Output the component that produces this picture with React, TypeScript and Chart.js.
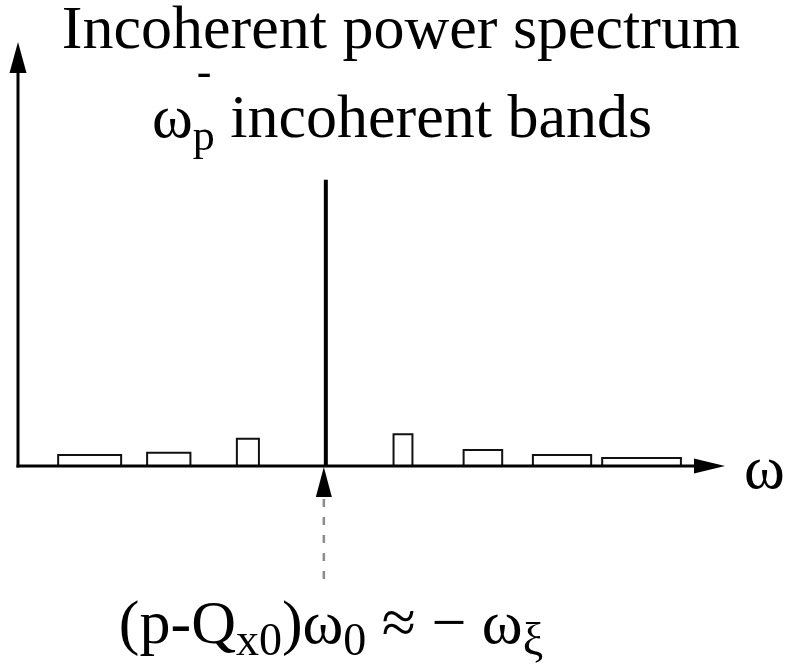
import React, { useEffect, useRef } from "react";
import { Chart, registerables } from "chart.js";

Chart.register(...registerables);

// Incoherent sidebands: frequency range (in units of band spacing) and power
const bandLow = [-3.4, -2.27, -1.13, 0.86, 1.75, 2.63, 3.51];
const bandHigh = [-2.6, -1.72, -0.85, 1.1, 2.24, 3.37, 4.51];
const bandPower = [0.26, 0.31, 0.64, 0.75, 0.38, 0.26, 0.19];

// Coherent line at the shifted betatron frequency
const peakFreq = [0];
const peakPower = [6.75];

const freqMin = -3.91;
const freqMax = 5.07;
const powerMax = 10;

const SERIF = "'Liberation Serif', 'Times New Roman', serif";

type Seg = { t: string; size: number; dy: number; gapAfter?: number };

function segWidth(ctx: CanvasRenderingContext2D, s: Seg) {
  ctx.font = `${s.size}px ${SERIF}`;
  return ctx.measureText(s.t).width + (s.gapAfter ?? 0);
}

function drawRich(ctx: CanvasRenderingContext2D, segs: Seg[], cx: number, baseline: number) {
  const total = segs.reduce((w, s) => w + segWidth(ctx, s), 0);
  let x = cx - total / 2;
  ctx.textAlign = "left";
  ctx.textBaseline = "alphabetic";
  for (const s of segs) {
    ctx.font = `${s.size}px ${SERIF}`;
    ctx.fillText(s.t, x, baseline + s.dy);
    x += segWidth(ctx, s);
  }
  return cx - total / 2;
}

const decorations = {
  id: "spectrumDecorations",
  afterDatasetsDraw(chart: any) {
    const ctx: CanvasRenderingContext2D = chart.ctx;
    const xs = chart.scales.x;
    const ys = chart.scales.y;
    const yBase = ys.getPixelForValue(0);
    const xLeft = xs.left;
    const xRight = xs.right;
    const yTop = ys.top;
    ctx.save();
    ctx.fillStyle = "#000";
    ctx.strokeStyle = "#000";
    ctx.lineWidth = 3;

    // frequency axis with arrow
    ctx.beginPath();
    ctx.moveTo(xLeft - 1.5, yBase);
    ctx.lineTo(xRight - 30, yBase);
    ctx.stroke();
    ctx.beginPath();
    ctx.moveTo(xRight, yBase);
    ctx.lineTo(xRight - 31, yBase - 7.5);
    ctx.lineTo(xRight - 31, yBase + 7.5);
    ctx.closePath();
    ctx.fill();

    // power axis with arrow
    ctx.beginPath();
    ctx.moveTo(xLeft, yBase + 1.5);
    ctx.lineTo(xLeft, yTop + 30);
    ctx.stroke();
    ctx.beginPath();
    ctx.moveTo(xLeft, yTop);
    ctx.lineTo(xLeft - 8.5, yTop + 31);
    ctx.lineTo(xLeft + 8.5, yTop + 31);
    ctx.closePath();
    ctx.fill();

    // marker under the coherent line
    const xp = xs.getPixelForValue(peakFreq[0]) - 2;
    ctx.beginPath();
    ctx.moveTo(xp, yBase + 1);
    ctx.lineTo(xp - 8, yBase + 31);
    ctx.lineTo(xp + 8, yBase + 31);
    ctx.closePath();
    ctx.fill();
    ctx.strokeStyle = "#8c8c8c";
    ctx.lineWidth = 2.5;
    ctx.setLineDash([8, 10]);
    ctx.beginPath();
    ctx.moveTo(xp, yBase + 33);
    ctx.lineTo(xp, yBase + 114);
    ctx.stroke();
    ctx.setLineDash([]);

    // axis label
    ctx.fillStyle = "#000";
    ctx.font = `62px ${SERIF}`;
    ctx.textAlign = "left";
    ctx.textBaseline = "alphabetic";
    ctx.fillText("ω", xRight + 19, yBase + 22);

    // title lines
    ctx.font = `62px ${SERIF}`;
    ctx.textAlign = "center";
    ctx.fillText("Incoherent power spectrum", 401, 48);

    const line2: Seg[] = [
      { t: "ω", size: 62, dy: 0 },
      { t: "p", size: 44, dy: 13 },
      { t: " incoherent bands", size: 62, dy: 0 },
    ];
    const line2Left = drawRich(ctx, line2, 402, 137);
    // superscript minus over the subscript p
    ctx.font = `62px ${SERIF}`;
    const omegaW = ctx.measureText("ω").width;
    ctx.font = `44px ${SERIF}`;
    ctx.textAlign = "left";
    ctx.fillText("-", line2Left + omegaW + 4, 86);

    // bottom label
    drawRich(
      ctx,
      [
        { t: "(p-Q", size: 62, dy: 0 },
        { t: "x0", size: 46, dy: 12 },
        { t: ")ω", size: 62, dy: 0 },
        { t: "0", size: 46, dy: 12 },
        { t: " ≈ − ω", size: 62, dy: 0 },
        { t: "ξ", size: 46, dy: 12 },
      ],
      331,
      643
    );
    ctx.restore();
  },
};

export default function App() {
  const canvasRef = useRef<HTMLCanvasElement | null>(null);

  useEffect(() => {
    const canvas = canvasRef.current;
    if (!canvas) return;

    const bandSets = bandLow.map((lo, i) => ({
      type: "scatter" as const,
      data: [
        { x: lo, y: 0 },
        { x: lo, y: bandPower[i] },
        { x: bandHigh[i], y: bandPower[i] },
        { x: bandHigh[i], y: 0 },
      ],
      showLine: true,
      borderColor: "#111",
      borderWidth: 2,
      pointRadius: 0,
      fill: false,
      tension: 0,
      clip: false as const,
    }));

    const peakSet = {
      type: "scatter" as const,
      data: peakFreq.flatMap((f, i) => [
        { x: f, y: 0 },
        { x: f, y: peakPower[i] },
      ]),
      showLine: true,
      borderColor: "#000",
      borderWidth: 4,
      pointRadius: 0,
      fill: false,
      clip: false as const,
    };

    const chart = new Chart(canvas, {
      type: "scatter",
      data: { datasets: [...bandSets, peakSet] as any },
      options: {
        animation: false,
        responsive: false,
        layout: { padding: { left: 18, right: 63, top: 42, bottom: 204 } },
        plugins: { legend: { display: false }, tooltip: { enabled: false } },
        scales: {
          x: { type: "linear", min: freqMin, max: freqMax, display: false },
          y: { type: "linear", min: 0, max: powerMax, display: false },
        },
      },
      plugins: [decorations],
    });
    return () => chart.destroy();
  }, []);

  return (
    <div style={{ position: "absolute", left: 0, top: 0, width: 788, height: 670, background: "#fff" }}>
      <canvas ref={canvasRef} width={788} height={670} style={{ width: 788, height: 670 }} />
    </div>
  );
}
